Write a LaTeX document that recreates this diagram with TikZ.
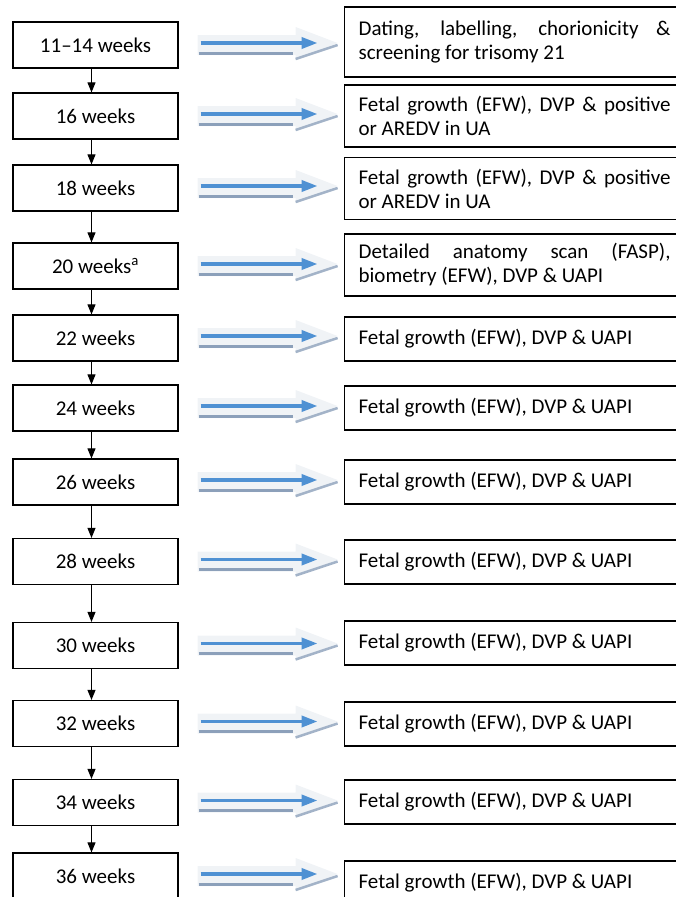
\documentclass[tikz,border=0pt]{standalone}
\usepackage{fontspec}
\setmainfont{Carlito}
\usetikzlibrary{positioning,calc,arrows.meta}
\definecolor{flowblue}{RGB}{79,145,211}
\definecolor{flowgrey}{RGB}{140,160,186}
\definecolor{flowpale}{RGB}{240,243,246}

\begin{document}
\begin{tikzpicture}[x=1pt,y=-1pt,line width=1.2pt,font=\fontsize{21}{24}\selectfont,
	weekbox/.style={rectangle,draw,minimum width=165pt,minimum height=46pt,inner sep=0pt},
	scanbox/.style={rectangle,draw,anchor=west,text width=312pt,inner xsep=14pt,inner ysep=0pt,align=justify,minimum height=44pt},
	nextscan/.style={-{Triangle[length=10pt,width=8pt]},line width=1pt}]
	\useasboundingbox (0,0) rectangle (676,897);

	% scan times
	\node[weekbox] (w1) at (95.5,45) {11–14 weeks};
	\node[weekbox] (w2) at (95.5,116) {16 weeks};
	\node[weekbox] (w3) at (95.5,188) {18 weeks};
	\node[weekbox] (w4) at (95.5,266) {20 weeks\textsuperscript{a}};
	\node[weekbox] (w5) at (95.5,338) {22 weeks};
	\node[weekbox] (w6) at (95.5,408) {24 weeks};
	\node[weekbox] (w7) at (95.5,482) {26 weeks};
	\node[weekbox] (w8) at (95.5,561.5) {28 weeks};
	\node[weekbox] (w9) at (95.5,645.5) {30 weeks};
	\node[weekbox] (w10) at (95.5,723.5) {32 weeks};
	\node[weekbox] (w11) at (95.5,802.5) {34 weeks};
	\node[weekbox] (w12) at (95.5,876) {36 weeks};

	% what is checked
	\node[scanbox,minimum height=70pt] (s1) at (344,42) {Dating, labelling, chorionicity \&\linebreak screening for trisomy 21};
	\node[scanbox,minimum height=62pt] (s2) at (344,116) {Fetal growth (EFW), DVP \& positive\linebreak or AREDV in UA};
	\node[scanbox,minimum height=62pt] (s3) at (344,188.5) {Fetal growth (EFW), DVP \& positive\linebreak or AREDV in UA};
	\node[scanbox,minimum height=62pt] (s4) at (344,265) {Detailed anatomy scan (FASP),\linebreak biometry (EFW), DVP \& UAPI};
	\node[scanbox] (s5) at (344,339) {Fetal growth (EFW), DVP \& UAPI};
	\node[scanbox] (s6) at (344,408) {Fetal growth (EFW), DVP \& UAPI};
	\node[scanbox] (s7) at (344,482) {Fetal growth (EFW), DVP \& UAPI};
	\node[scanbox] (s8) at (344,562) {Fetal growth (EFW), DVP \& UAPI};
	\node[scanbox] (s9) at (344,643) {Fetal growth (EFW), DVP \& UAPI};
	\node[scanbox] (s10) at (344,724) {Fetal growth (EFW), DVP \& UAPI};
	\node[scanbox] (s11) at (344,802) {Fetal growth (EFW), DVP \& UAPI};
	\node[scanbox] (s12) at (344,883) {Fetal growth (EFW), DVP \& UAPI};

	\foreach \a [count=\b from 2] in {1,...,11}
		\draw[nextscan] ([xshift=-4pt]w\a.south) -- ([xshift=-4pt]w\b.north);

	% block arrows
	\foreach \r in {1,...,12}{
		\begin{scope}[shift={(w\r.east)}]
			\fill[flowpale] (19,-10) -- (117,-10) -- (117,-18) -- (159,-2) -- (117,15) -- (117,10) -- (19,10) -- cycle;
			\draw[flowgrey,line width=3pt] (20,8) -- (114,8);
			\draw[flowgrey!80,line width=2.5pt] (117,14) -- (159,0);
			\draw[flowblue,line width=3.5pt,-{Triangle[length=16pt,width=11pt]}] (22,-2) -- (139,-2);
		\end{scope}
	}
\end{tikzpicture}
\end{document}
